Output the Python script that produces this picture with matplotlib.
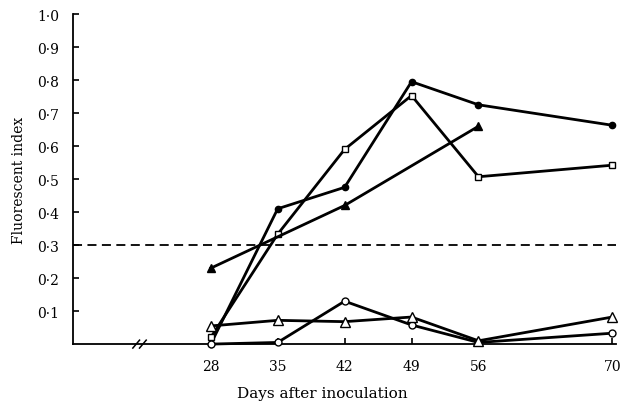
import numpy as np
import matplotlib
matplotlib.use('Agg')
import matplotlib.pyplot as plt

plt.rcParams['font.family'] = ['DejaVu Serif']

# days after inoculation
days_fc = [28, 35, 42, 49, 56, 70]          # filled circles
fi_fc = [0.0, 0.41, 0.475, 0.795, 0.725, 0.663]
days_sq = [28, 35, 42, 49, 56, 70]          # open squares
fi_sq = [0.02, 0.333, 0.59, 0.753, 0.507, 0.542]
days_ft = [28, 42, 56]                      # filled triangles
fi_ft = [0.23, 0.42, 0.66]
days_oc = [28, 35, 42, 49, 56, 70]          # open circles
fi_oc = [0.0, 0.005, 0.13, 0.058, 0.005, 0.033]
days_ot = [28, 35, 42, 49, 56, 70]          # open triangles
fi_ot = [0.055, 0.072, 0.068, 0.082, 0.01, 0.082]

threshold = 0.3
xticks = [28, 35, 42, 49, 56, 70]
yticks = [0.1, 0.2, 0.3, 0.4, 0.5, 0.6, 0.7, 0.8, 0.9, 1.0]
ylabels = ['0·1', '0·2', '0·3', '0·4', '0·5', '0·6', '0·7', '0·8', '0·9', '1·0']

fig = plt.figure(figsize=(6.3, 4.06), dpi=100)
ax = fig.add_axes([0.116, 0.150, 0.862, 0.813])

lw = 2.0
ax.plot(days_fc, fi_fc, 'o-', color='k', lw=lw, ms=4.5, mfc='k', clip_on=False, zorder=3)
ax.plot(days_sq, fi_sq, 's-', color='k', lw=lw, ms=4.5, mfc='white', mew=1, clip_on=False, zorder=3)
ax.plot(days_ft, fi_ft, '^-', color='k', lw=lw, ms=6, mfc='k', clip_on=False, zorder=3)
ax.plot(days_oc, fi_oc, 'o-', color='k', lw=lw, ms=5, mfc='white', mew=1, clip_on=False, zorder=3)
ax.plot(days_ot, fi_ot, '^-', color='k', lw=lw, ms=6.5, mfc='white', mew=1, clip_on=False, zorder=3)

ax.axhline(threshold, color='k', lw=1.3, ls=(0, (5, 3)), zorder=1)

ax.set_xlim(13.6, 70.4)
ax.set_ylim(0, 1.0)
ax.set_xticks(xticks)
ax.set_xticklabels([str(d) for d in xticks])
ax.set_yticks(yticks)
ax.set_yticklabels(ylabels)
ax.tick_params(direction='in', length=4, width=1.2, labelsize=10, pad=11)
ax.tick_params(axis='y', pad=10)
for s in ['top', 'right']:
    ax.spines[s].set_visible(False)
for s in ['left', 'bottom']:
    ax.spines[s].set_linewidth(1.3)

# axis break marks
ax.plot([20.0, 21.1], [0, 0], color='white', lw=2.5, zorder=2, clip_on=False)
for xb in [20.2, 20.9]:
    ax.plot([xb - 0.35, xb + 0.35], [-0.012, 0.012], color='k', lw=1.1, clip_on=False, zorder=4)

ax.set_ylabel('Fluorescent index', fontsize=10, labelpad=8)
fig.text(322 / 630, 1 - 394 / 406, 'Days after inoculation', fontsize=11, ha='center', va='center')

plt.savefig('out.png', dpi=100)
